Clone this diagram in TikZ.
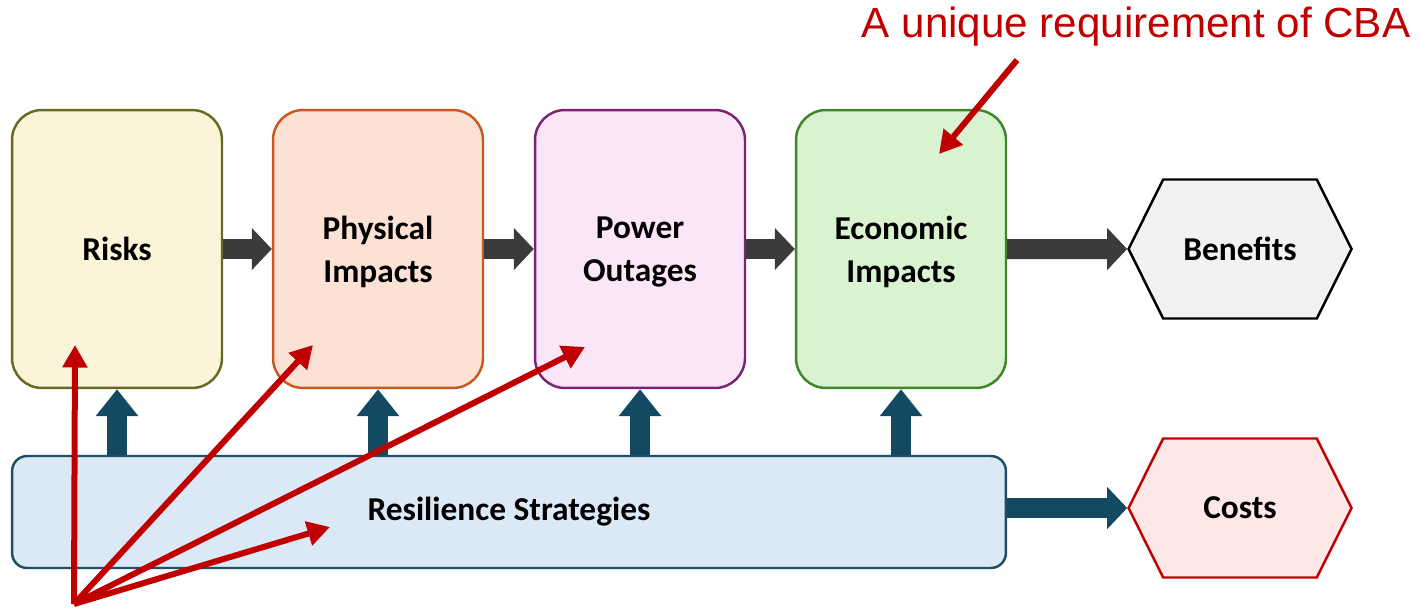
\documentclass[tikz,border=0pt]{standalone}
\usepackage{fontspec}
\setmainfont{Carlito}
\newfontfamily\notefont{Liberation Sans}
\usetikzlibrary{arrows.meta,shapes.symbols}

% fills and borders
\definecolor{riskfill}{HTML}{FCF4D8}
\definecolor{riskdraw}{HTML}{646B22}
\definecolor{physfill}{HTML}{FBE2D5}
\definecolor{physdraw}{HTML}{C8581E}
\definecolor{powerfill}{HTML}{FBE6F8}
\definecolor{powerdraw}{HTML}{7A2373}
\definecolor{econfill}{HTML}{D9F2D0}
\definecolor{econdraw}{HTML}{3E8627}
\definecolor{resfill}{HTML}{DBE8F5}
\definecolor{resdraw}{HTML}{1F4E67}
\definecolor{flowgray}{HTML}{3B3B3B}
\definecolor{flowblue}{HTML}{134A62}
\definecolor{cbared}{HTML}{C00000}
\definecolor{costfill}{HTML}{FDE8E7}

\tikzset{
  stage/.style={draw, rounded corners=0.6cm, line width=1.4pt, minimum width=4.2cm,
    minimum height=5.56cm, align=center, text depth=0pt,
    font=\fontsize{19}{24.5}\selectfont\bfseries},
  outcome/.style={shape=signal, signal to=east and west, signal pointer angle=127,
    draw, line width=1.4pt, minimum width=4.46cm, minimum height=2.78cm,
    inner sep=0pt, font=\fontsize{19}{24.5}\selectfont\bfseries},
  flow/.style={draw=flowgray, line width=0.4cm, -{Triangle[length=0.4cm,width=0.82cm]}},
  upflow/.style={draw=flowblue, line width=0.4cm, -{Triangle[length=0.54cm,width=0.82cm]}},
  note/.style={draw=cbared, line width=0.12cm, -{Triangle[length=0.45cm,width=0.48cm]}},
}

\begin{document}
\begin{tikzpicture}[x=0.02cm, y=-0.02cm]
\useasboundingbox (0,0) rectangle (1425,608);

% main chain
\node[stage, fill=riskfill, draw=riskdraw] (risks) at (117,249) {Risks};
\node[stage, fill=physfill, draw=physdraw] (phys) at (378,249) {Physical\\Impacts};
\node[stage, fill=powerfill, draw=powerdraw] (power) at (640,249) {Power\\Outages};
\node[stage, fill=econfill, draw=econdraw] (econ) at (901,249) {Economic\\Impacts};

\node[outcome, fill=black!5, draw=black] (benefits) at (1240,249) {Benefits};
\node[outcome, fill=costfill, draw=cbared] (costs) at (1240,508) {Costs};

\node[draw=resdraw, fill=resfill, rounded corners=0.3cm, line width=1.4pt,
  minimum width=19.88cm, minimum height=2.24cm,
  font=\fontsize{19}{24.5}\selectfont\bfseries] (res) at (509,512) {Resilience Strategies};

\draw[flow] (risks) -- (phys);
\draw[flow] (phys) -- (power);
\draw[flow] (power) -- (econ);
\draw[flow] (econ) -- (benefits);
\draw[flow, draw=flowblue] (res.east |- costs) -- (costs.west);

% strategies act on every stage
\foreach \s in {risks,phys,power,econ}
  \draw[upflow] (res.north -| \s) -- (\s.south);

% callouts
\node[anchor=base, text=cbared, font=\notefont\fontsize{24}{28}\selectfont] (cba) at (1136,38) {A unique requirement of CBA};
\coordinate (cbatail) at (1017,60);
\coordinate (cbatip) at (939,154);
\draw[note] (cbatail) -- (cbatip);

\coordinate (src) at (74,604);
\coordinate (risktip) at (75,345);
\coordinate (phystip) at (313,345);
\coordinate (powertip) at (585,347);
\coordinate (restip) at (330,527);
\foreach \t in {risktip,phystip,powertip,restip}
  \draw[note] (src) -- (\t);
\end{tikzpicture}
\end{document}
